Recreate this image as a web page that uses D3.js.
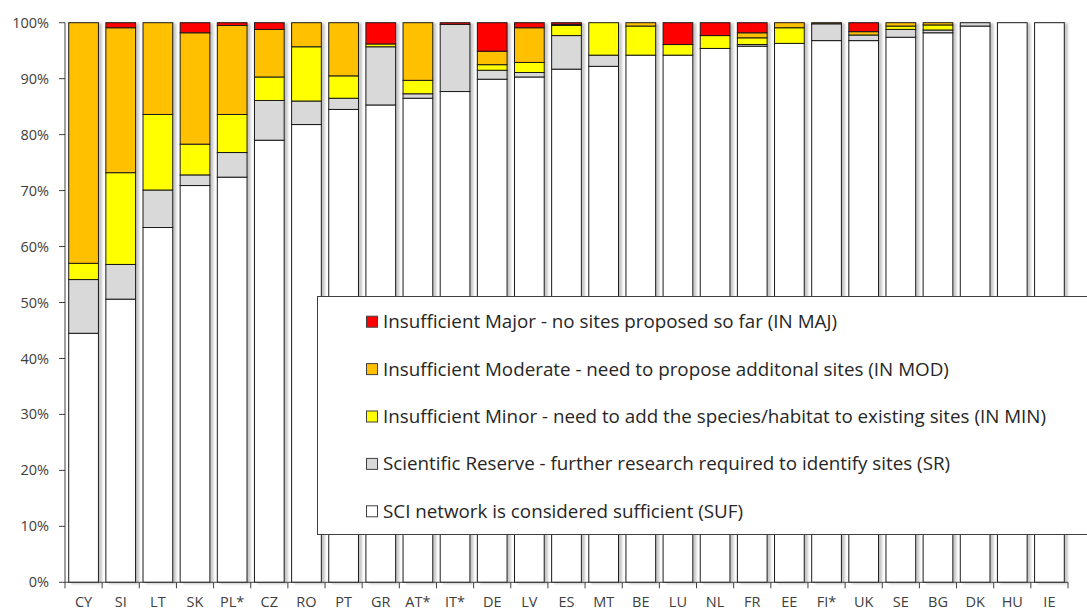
<!DOCTYPE html>
<html><head><meta charset="utf-8">
<script src="https://cdn.jsdelivr.net/npm/d3@7"></script>
<style>
html,body{margin:0;padding:0;background:#fff;}
svg{display:block;font-family:"Open Sans","Noto Sans",sans-serif;}
</style></head>
<body><svg id="c" width="1087" height="611"></svg>
<script>
const categories = ["CY","SI","LT","SK","PL*","CZ","RO","PT","GR","AT*","IT*","DE","LV","ES","MT","BE","LU","NL","FR","EE","FI*","UK","SE","BG","DK","HU","IE"];
const SUF   = [44.5,50.6,63.4,70.9,72.4,79.0,81.8,84.5,85.3,86.5,87.7,89.9,90.3,91.7,92.2,94.2,94.2,95.4,95.8,96.3,96.8,96.8,97.4,98.2,99.4,100,100];
const SR    = [9.6,6.2,6.7,1.9,4.4,7.1,4.2,2.0,10.4,0.8,12.0,1.6,0.8,6.0,2.0,0,0,0,0.3,0,3.0,1.0,1.4,0.5,0.6,0,0];
const IN_MIN= [2.9,16.4,13.5,5.5,6.8,4.2,9.7,4.0,0.5,2.4,0,1.0,1.8,1.8,5.8,5.2,1.9,2.3,1.2,2.8,0,0,0.6,0.9,0,0,0];
const IN_MOD= [43.0,25.9,16.4,19.9,15.9,8.5,4.3,9.5,0,10.3,0,2.4,6.2,0.2,0,0.6,0,0,0.9,0.9,0.2,0.6,0.6,0.4,0,0,0];
const IN_MAJ= [0,0.9,0,1.8,0.5,1.2,0,0,3.8,0,0.3,5.1,0.9,0.3,0,0,3.9,2.3,1.8,0,0,1.6,0,0,0,0,0];
const seriesKeys = ["SUF","SR","IN_MIN","IN_MOD","IN_MAJ"];
const seriesColors = ["#ffffff","#d9d9d9","#ffff00","#ffc000","#ff0000"];
const legendLabels = [
  "Insufficient Major - no sites proposed so far (IN MAJ)",
  "Insufficient Moderate - need to propose additonal sites (IN MOD)",
  "Insufficient Minor - need to add the species/habitat to existing sites (IN MIN)",
  "Scientific Reserve - further research required to identify sites (SR)",
  "SCI network is considered sufficient (SUF)"
];
const legendColors = ["#ff0000","#ffc000","#ffff00","#d9d9d9","#ffffff"];
const yTicks = [0,10,20,30,40,50,60,70,80,90,100];

const svg = d3.select("#c");
const defs = svg.append("defs");
const f = defs.append("filter").attr("id","sh").attr("x","-20%").attr("y","-5%").attr("width","150%").attr("height","110%");
f.append("feDropShadow").attr("dx",3).attr("dy",1).attr("stdDeviation",1.2).attr("flood-color","#000").attr("flood-opacity",0.22);

const x0 = 65, x1 = 1068, yTop = 22.7, yBot = 582.3;
const x = d3.scaleBand().domain(categories).range([x0,x1]).paddingInner(0.2).paddingOuter(0.1);
const y = d3.scaleLinear().domain([0,100]).range([yBot,yTop]);

const table = categories.map((c,i)=>({cat:c,SUF:SUF[i],SR:SR[i],IN_MIN:IN_MIN[i],IN_MOD:IN_MOD[i],IN_MAJ:IN_MAJ[i]}));
const stacked = d3.stack().keys(seriesKeys)(table);

const barsG = svg.append("g");
categories.forEach((c,i)=>{
  const g = barsG.append("g").attr("filter","url(#sh)");
  stacked.forEach((s,k)=>{
    const d = s[i];
    if (d[1]-d[0] <= 0) return;
    g.append("rect")
      .attr("x",x(c)).attr("width",x.bandwidth())
      .attr("y",y(d[1])).attr("height",y(d[0])-y(d[1]))
      .attr("fill",seriesColors[k]).attr("stroke","#1a1a1a").attr("stroke-width",1);
  });
});

// axes
const axisColor = "#404040";
const ax = svg.append("g");
ax.append("line").attr("x1",x0).attr("x2",x0).attr("y1",y(100)).attr("y2",y(0)).attr("stroke",axisColor);
ax.append("line").attr("x1",x0).attr("x2",x1).attr("y1",y(0)).attr("y2",y(0)).attr("stroke",axisColor);
yTicks.forEach(t=>{
  ax.append("line").attr("x1",x0-6).attr("x2",x0).attr("y1",y(t)).attr("y2",y(t)).attr("stroke",axisColor);
  ax.append("text").attr("x",49).attr("y",y(t)).attr("dy","0.35em").attr("text-anchor","end")
    .attr("font-size",14.5).attr("fill","#404040").text(t+"%");
});
const step = x.step();
categories.forEach((c,i)=>{
  const bx = x(c) - step*0.1;
  ax.append("line").attr("x1",bx).attr("x2",bx).attr("y1",y(0)).attr("y2",y(0)+6).attr("stroke",axisColor);
  ax.append("text").attr("x",x(c)+x.bandwidth()/2).attr("y",607).attr("text-anchor","middle")
    .attr("font-size",14.5).attr("fill","#404040").text(c);
});
ax.append("line").attr("x1",x1).attr("x2",x1).attr("y1",y(0)).attr("y2",y(0)+6).attr("stroke",axisColor);

// legend
const lg = svg.append("g");
lg.append("rect").attr("x",317.5).attr("y",296.5).attr("width",780).attr("height",238).attr("fill","#fff").attr("stroke","#404040");
legendLabels.forEach((l,i)=>{
  const cy = 321.7 + i*47.4;
  lg.append("rect").attr("x",366.5).attr("y",cy-5.5).attr("width",11).attr("height",11).attr("fill",legendColors[i]).attr("stroke","#404040");
  lg.append("text").attr("x",383).attr("y",cy).attr("dy","0.35em").attr("font-size",18.8).attr("fill","#262626").text(l);
});
</script></body></html>
